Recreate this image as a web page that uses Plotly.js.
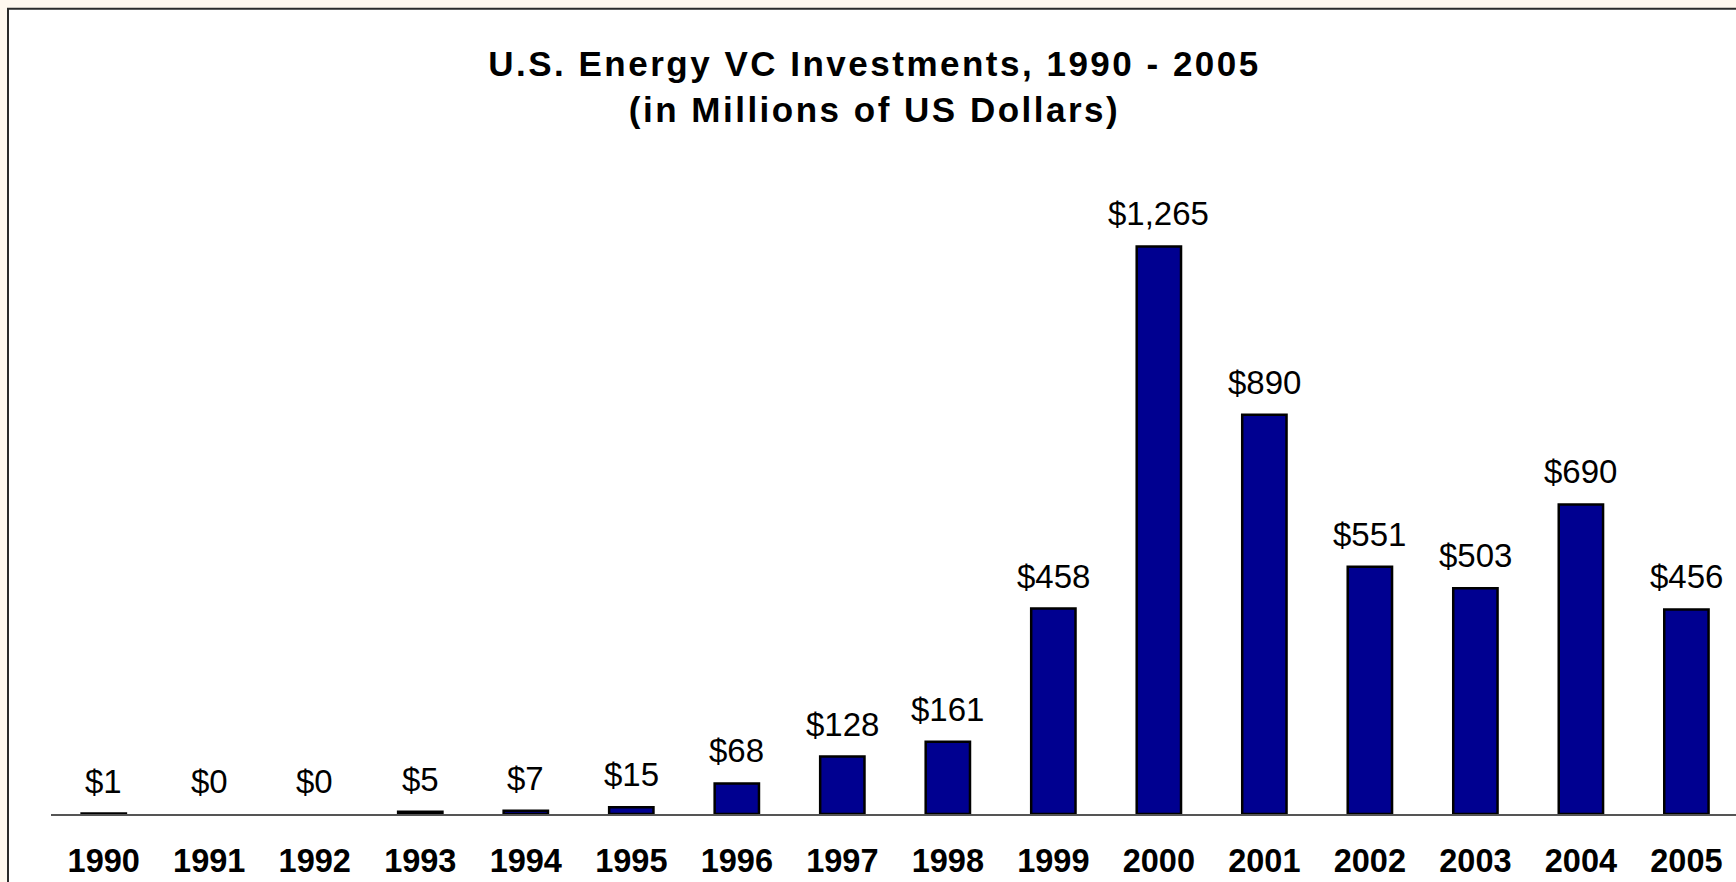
<!DOCTYPE html>
<html>
<head>
<meta charset="utf-8">
<script src="https://cdn.plot.ly/plotly-3.0.1.min.js"></script>
<style>
  html, body { margin: 0; padding: 0; background: #FFF8EF; }
  #chart { width: 1736px; height: 882px; }
</style>
</head>
<body>
<div id="chart"></div>
<script>
// ---- data ----
const years = ['1990','1991','1992','1993','1994','1995','1996','1997',
               '1998','1999','2000','2001','2002','2003','2004','2005'];
const investments = [1, 0, 0, 5, 7, 15, 68, 128, 161, 458, 1265, 890, 551, 503, 690, 456];
const titleLines = ['U.S. Energy VC Investments, 1990 - 2005', '(in Millions of US Dollars)'];

// ---- layout geometry ----
const W = 1736, H = 882;
const mL = 51, mR = 0, mT = 140.5, mB = 67.5;
const plotW = W - mL - mR, plotH = H - mT - mB;
const FONT = 'Liberation Sans, Arial, Helvetica, sans-serif';

const fmt = v => '$' + v.toLocaleString('en-US');

const trace = {
  type: 'bar',
  x: years,
  y: investments,
  marker: {
    color: '#000090',
    line: { color: '#000000', width: investments.map(v => (v === 0 ? 0 : 2.5)) }
  },
  hoverinfo: 'skip'
};

const annotations = years.map((yr, i) => ({
  x: i, y: investments[i], xref: 'x', yref: 'y',
  text: fmt(investments[i]),
  showarrow: false, yanchor: 'bottom', xanchor: 'center',
  yshift: 12,
  font: { family: FONT, size: 33, color: '#000000' }
}));

const px2x = px => (px - mL) / plotW;
const py2y = py => (H - mB - py) / plotH;

const layout = {
  width: W, height: H,
  margin: { l: mL, r: mR, t: mT, b: mB, pad: 0 },
  paper_bgcolor: '#FFF8EF',
  plot_bgcolor: 'rgba(0,0,0,0)',
  showlegend: false,
  bargap: 0.58,
  title: {
    text: titleLines.join('<br>'),
    font: { family: FONT, size: 35, color: '#000000', weight: 'bold' },
    x: 874.5 / W, xref: 'container', xanchor: 'center',
    y: 1 - 76 / H, yref: 'container', yanchor: 'top'
  },
  xaxis: {
    type: 'category',
    range: [-0.5, 15.47],
    showline: true, linecolor: '#555555', linewidth: 1.5,
    showgrid: false, zeroline: false, ticks: '',
    ticklabelstandoff: 17,
    tickfont: { family: FONT, size: 32.5, color: '#000000', weight: 'bold' },
    fixedrange: true
  },
  yaxis: {
    range: [0, 1500],
    showticklabels: false, showline: false, showgrid: false,
    zeroline: false, ticks: '', fixedrange: true
  },
  shapes: [{
    type: 'rect', layer: 'below',
    xref: 'paper', yref: 'paper',
    x0: px2x(8), x1: px2x(W + 20),
    y0: py2y(H + 20), y1: py2y(8),
    fillcolor: '#FFFFFF',
    line: { color: '#2b2b2b', width: 2 }
  }],
  annotations: annotations
};

Plotly.newPlot('chart', [trace], layout, { displayModeBar: false, staticPlot: true }).then(gd => {
  const t = gd.querySelector('.gtitle');
  if (t) { t.style.letterSpacing = '2.5px'; }
});
</script>
</body>
</html>
